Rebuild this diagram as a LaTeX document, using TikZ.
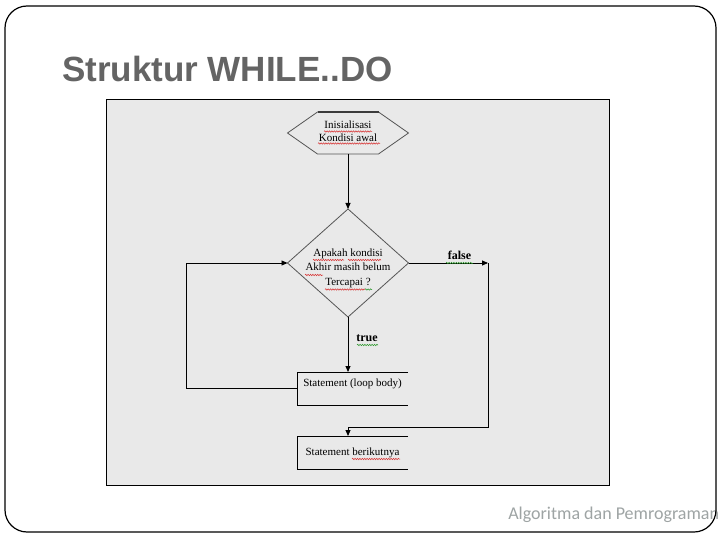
\documentclass[tikz,border=0pt]{standalone}
\usepackage{fontspec}
\setmainfont{Liberation Serif}
\newfontfamily\titlefont{Liberation Sans}
\newfontfamily\footfont{Carlito}
\usetikzlibrary{arrows.meta,decorations.pathmorphing}
\definecolor{panel}{RGB}{233,233,233}
\definecolor{titlegray}{RGB}{100,100,100}
\definecolor{footgray}{RGB}{158,164,164}
\definecolor{shapegray}{RGB}{85,85,85}
\definecolor{spellred}{RGB}{215,45,45}
\definecolor{spellgreen}{RGB}{40,150,40}
\begin{document}
\begin{tikzpicture}[x=1pt,y=-1pt,
  every node/.style={inner sep=0pt, outer sep=0pt},
  lbl/.style={font=\fontsize{11}{13}\selectfont, align=center},
  lbld/.style={font=\fontsize{11}{14.5}\selectfont, align=center},
  edge/.style={font=\bfseries\fontsize{12}{14}\selectfont},
  conn/.style={draw=black, line width=0.9pt},
  arr/.style={conn, -{Triangle[length=6pt,width=5pt]}},
  shapeln/.style={draw=shapegray, line width=0.8pt},
  spell/.style={draw=spellred, line width=0.5pt, decorate, decoration={snake, amplitude=0.7pt, segment length=2.4pt}},
  spellg/.style={spell, draw=spellgreen},
]
\useasboundingbox (0,0) rectangle (720,540);
\fill[white] (0,0) rectangle (720,540);
% title and footer
\node[anchor=base west, font=\titlefont\bfseries\fontsize{35}{40}\selectfont, text=titlegray] (title) at (62,82) {Struktur WHILE..DO};
\node[anchor=base east, font=\footfont\fontsize{18}{20}\selectfont, text=footgray] (foot) at (719,519) {Algoritma dan Pemrograman};
% slide border
\draw[line width=1.2pt, rounded corners=22pt] (5,6) rectangle (716,532);
% diagram panel
\draw[fill=panel, line width=1pt] (106,100) rectangle (609,485);
% hexagon
\node[lbl, minimum width=121pt, minimum height=42pt] (init) at (348,133) {};
\node[lbl] (inittxt) at (348,131) {Inisialisasi\\Kondisi awal};
\draw[shapeln] (init.west) -- ([xshift=30pt]init.north west) -- ([xshift=-30pt]init.north east) -- (init.east) -- ([xshift=-30pt]init.south east) -- ([xshift=30pt]init.south west) -- cycle;
\draw[draw=shapegray!70!black, line width=1.3pt] ([xshift=30pt]init.north west) -- ([xshift=-30pt]init.north east);
% diamond
\node[minimum width=121pt, minimum height=108pt] (dec) at (348,263) {};
\node[lbld] (dectxt) at (348,268) {Apakah kondisi\\Akhir masih belum\\Tercapai ?};
\draw[shapeln] (dec.north) -- (dec.east) -- (dec.south) -- (dec.west) -- cycle;
% statement boxes (open on the right)
\node[lbl, minimum width=111pt, minimum height=33pt] (body) at (352.5,388.5) {};
\node[lbl] (bodytxt) at (352.5,384) {Statement (loop body)};
\draw[conn, line width=0.8pt] (body.north east) -- (body.north west) -- (body.south west) -- (body.south east);
\node[lbl, minimum width=111pt, minimum height=33pt] (next) at (352.5,452.5) {};
\node[lbl] (nexttxt) at (352.5,453) {Statement berikutnya};
\draw[conn, line width=0.8pt] (next.north east) -- (next.north west) -- (next.south west) -- (next.south east);
% connectors
\draw[arr] (init.south) -- (dec.north);
\draw[arr] (dec.south) -- (dec.south |- body.north);
\coordinate (lb) at (186,263);
\draw[arr] (body.west) -| (lb) -- (dec.west);
\coordinate (fc) at (488,263);
\coordinate (fb) at (488,427);
\draw[arr] (dec.east) -- (fc);
\draw[arr] (fc) -- (fb) -| (dec.south |- next.north);
% edge labels
\node[edge] (lfalse) at (459.5,255) {false};
\node[edge] (ltrue) at (367,338) {true};
% spelling marks
\draw[spell] (324,131.5) -- (372,131.5);
\draw[spell] (318,143.5) -- (380,143.5);
\draw[spell] (313,260) -- (344,260);
\draw[spell] (348,260) -- (381,260);
\draw[spell] (305,275) -- (323,275);
\draw[spell] (325,289.5) -- (365,289.5);
\draw[spellg] (365,289.5) -- (372,289.5);
\draw[spellg] (446,263) -- (473,263);
\draw[spellg] (357,345) -- (378,345);
\draw[spell] (352,459) -- (400,459);
\end{tikzpicture}
\end{document}
